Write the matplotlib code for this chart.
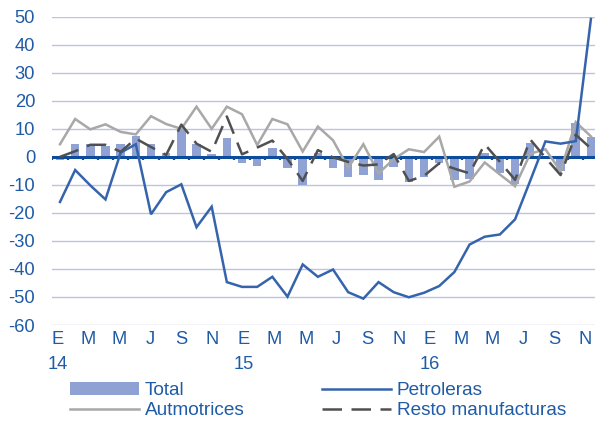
import matplotlib
matplotlib.use("Agg")
import matplotlib.pyplot as plt
import matplotlib.transforms as mtransforms
from matplotlib.patches import Patch
from matplotlib.lines import Line2D
import numpy as np

plt.rcParams['font.family'] = ['Liberation Sans', 'DejaVu Sans']
plt.rcParams['axes.unicode_minus'] = False

# ---- data (annual % change, Jan 2014 - Dec 2016) ----
month_labels = ['E', 'F', 'M', 'A', 'M', 'J', 'J', 'A', 'S', 'O', 'N', 'D'] * 3
year_labels = ['14', '15', '16']

total = [-1.0, 4.7, 4.7, 3.9, 4.7, 7.4, 4.7, 1.5, 9.8, 4.7,
         1.1, 6.6, -2.1, -3.3, 3.0, -3.9, -10.2, 1.2, -3.9, -7.3,
         -6.6, -8.4, -3.8, -9.1, -7.3, -2.1, -8.4, -8.0, 1.3, -5.7,
         -9.8, 4.8, -0.5, -5.0, 12.0, 7.0]

petroleras = [-16.1, -4.7, -10.2, -15.2, 1.5, 4.5, -20.5, -12.6, -9.8, -25.1,
              -17.8, -44.7, -46.4, -46.4, -42.8, -49.9, -38.4, -42.8, -40.2, -48.3,
              -50.6, -44.7, -48.3, -50.1, -48.5, -46.1, -41.1, -31.3, -28.5, -27.7,
              -22.3, -8.5, 5.5, 4.7, 5.6, 49.2]

automotrices = [4.5, 13.5, 9.8, 11.6, 8.9, 8.0, 14.5, 11.7, 10.0, 17.9,
                10.0, 17.9, 15.2, 4.2, 13.5, 11.6, 1.9, 10.8, 5.9, -3.9,
                4.5, -5.9, -0.8, 2.7, 1.7, 7.2, -10.7, -8.8, -2.0, -6.3,
                -10.5, 1.1, 2.7, -5.1, 12.4, 7.3]

resto = [0.0, 2.0, 4.3, 4.3, 1.8, 6.5, 3.5, 0.7, 11.5, 4.7,
         1.8, 14.4, 0.9, 3.3, 5.8, -0.8, -8.6, 2.4, -0.2, -1.8,
         -3.1, -2.7, 1.0, -8.6, -6.8, -2.3, -4.2, -5.9, 4.5, -1.8,
         -8.2, 6.2, -0.3, -6.5, 7.9, 3.0]

y_ticks = list(range(-60, 51, 10))

# ---- styles ----
TXT = '#1F5BA6'
ZERO = '#0E4C9B'
BLUE = '#3564AC'
BAR = '#8FA2D3'
GRAY = '#A8A8A8'
DARK = '#505050'
GRID = '#BAC5E3'
FS = 13.2
FS_LEG = 13.7

W, H = 595, 422
fig = plt.figure(figsize=(W / 100, H / 100), dpi=100)
left, right, top, bottom = 52.4, 598.5, 16.7, 325.0
ax = fig.add_axes([left / W, 1 - bottom / H, (right - left) / W, (bottom - top) / H])

n = len(total)
x = np.arange(n)

ax.set_xlim(-0.5, n - 0.5)
ax.set_ylim(y_ticks[0], y_ticks[-1])
ax.set_yticks(y_ticks)
ax.grid(axis='y', color=GRID, lw=1.0, zorder=0)
ax.set_axisbelow(True)
for s in ax.spines.values():
    s.set_visible(False)

ax.bar(x, total, width=0.56, color=BAR, zorder=2)
ax.axhline(0, color=ZERO, lw=2.2, zorder=3)
ax.vlines(np.arange(n + 1) - 0.5, -1.3, 0, color=ZERO, lw=1.6, zorder=3)

ax.plot(x, automotrices, color=GRAY, lw=1.8, zorder=4, solid_joinstyle='miter')
ax.plot(x, petroleras, color=BLUE, lw=1.8, zorder=5, solid_joinstyle='miter')
ax.plot(x, resto, color=DARK, lw=1.8, ls=(0, (7.8, 3.8)), zorder=6)

# every second month labelled; the source spreads its labels slightly wider
label_idx = np.arange(0, n, 2)
label_pos = label_idx * 1.0234 - 0.18
ax.set_xticks(label_pos)
ax.set_xticklabels([month_labels[i] for i in label_idx])
ax.tick_params(axis='x', length=0, pad=4, labelsize=FS, labelcolor=TXT)
ax.tick_params(axis='y', length=0, pad=12.5, labelsize=FS, labelcolor=TXT)

trans = mtransforms.blended_transform_factory(ax.transData, ax.transAxes)
for k, yr in enumerate(year_labels):
    ax.text(label_pos[6 * k], (bottom - 369) / (bottom - top), yr, transform=trans,
            ha='center', va='baseline', fontsize=FS, color=TXT)

handles = [Patch(facecolor=BAR, edgecolor='none'),
           Line2D([], [], color=GRAY, lw=1.8),
           Line2D([], [], color=BLUE, lw=1.8),
           Line2D([], [], color=DARK, lw=1.8, ls=(0, (7.8, 3.8)))]
labels = ['Total', 'Autmotrices', 'Petroleras', 'Resto manufacturas']
leg = fig.legend(handles, labels, ncol=2, loc='upper left',
                 bbox_to_anchor=(70 / W, 1 - 382 / H), frameon=False,
                 fontsize=FS_LEG, handlelength=3.6, handletextpad=0.32,
                 columnspacing=4.1, labelspacing=0.15, borderpad=0,
                 borderaxespad=0, handleheight=0.68)
for t in leg.get_texts():
    t.set_color(TXT)

fig.savefig('out.png', dpi=100)
